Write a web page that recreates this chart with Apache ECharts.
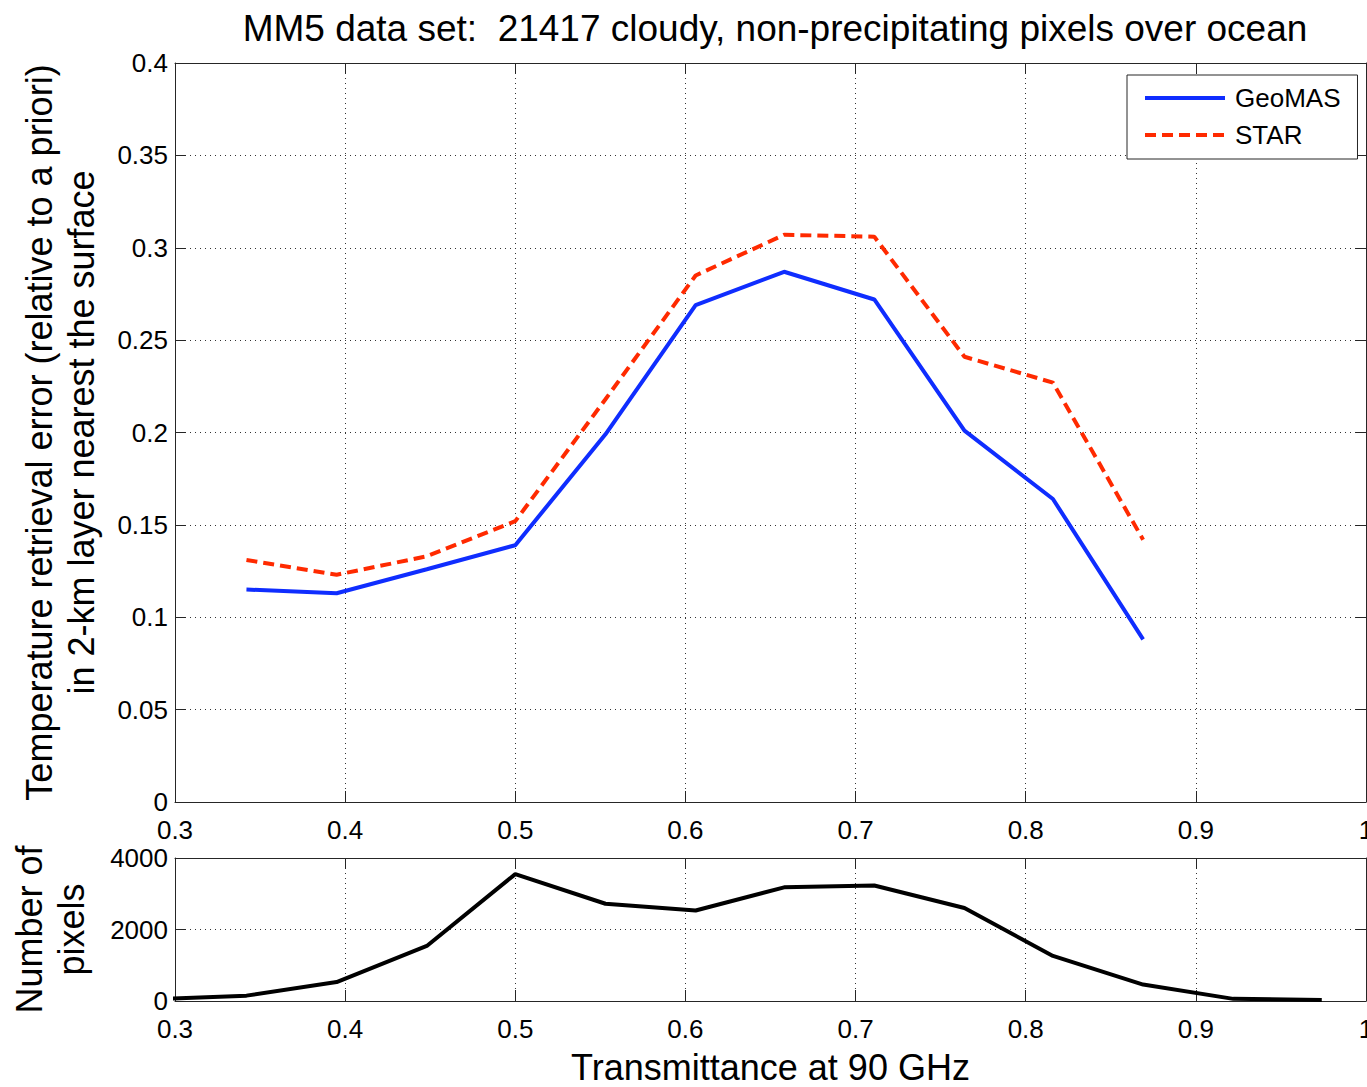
<!DOCTYPE html>
<html>
<head>
<meta charset="utf-8">
<script src="https://cdn.jsdelivr.net/npm/echarts@6/dist/echarts.min.js"></script>
<style>
html,body{margin:0;padding:0;background:#fff;}
#chart{width:1367px;height:1087px;}
</style>
</head>
<body>
<div id="chart"></div>
<script>
// ---- data ----
const transmittance = [0.342, 0.395, 0.448, 0.500, 0.553, 0.606, 0.658, 0.711, 0.764, 0.816, 0.869];
const geomasError  = [0.115, 0.113, 0.126, 0.139, 0.199, 0.269, 0.287, 0.272, 0.201, 0.164, 0.088];
const starError    = [0.131, 0.123, 0.133, 0.152, 0.218, 0.285, 0.307, 0.306, 0.241, 0.227, 0.142];

const countBins   = [0.290, 0.342, 0.395, 0.448, 0.500, 0.553, 0.606, 0.658, 0.711, 0.764, 0.816, 0.869, 0.922, 0.974];
const pixelCounts = [50, 150, 530, 1540, 3550, 2720, 2530, 3180, 3230, 2600, 1260, 460, 60, 30];

const xTicks = {min: 0.3, max: 1.0, interval: 0.1};
const errTicks = {min: 0, max: 0.4, interval: 0.05};
const cntTicks = {min: 0, max: 4000, interval: 2000};

const titleText = 'MM5 data set:  21417 cloudy, non-precipitating pixels over ocean';
const errName = 'Temperature retrieval error (relative to a priori)\nin 2-km layer nearest the surface';
const cntName = 'Number of\npixels';
const xName = 'Transmittance at 90 GHz';

// ---- styling ----
const FONT = 'Liberation Sans, Arial, Helvetica, sans-serif';
const AX = '#262626';
const gridDots = {color: '#333', width: 1, type: [1, 4]};

function pair(a, b) { return a.map((v, i) => [v, b[i]]); }

function xAxisMain(gridIndex, showName) {
  return Object.assign({
    type: 'value', gridIndex, position: 'bottom',
    axisLine: {show: true, onZero: false, lineStyle: {color: AX, width: 1}},
    axisTick: {show: true, inside: true, length: 11, lineStyle: {color: AX}},
    axisLabel: {show: true, color: '#000', fontSize: 26, lineHeight: 20, fontFamily: FONT, margin: 18, showMaxLabel: true, showMinLabel: true, hideOverlap: false},
    splitLine: {show: true, lineStyle: gridDots},
    name: showName ? xName : '', nameLocation: 'middle', nameGap: 48,
    nameTextStyle: {color: '#000', fontSize: 36, fontFamily: FONT, lineHeight: 36}
  }, xTicks);
}
function xAxisTop(gridIndex) {
  return Object.assign({
    type: 'value', gridIndex, position: 'top',
    axisLine: {show: true, onZero: false, lineStyle: {color: AX, width: 1}},
    axisTick: {show: true, inside: true, length: 11, lineStyle: {color: AX}},
    axisLabel: {show: false}, splitLine: {show: false}
  }, xTicks);
}
function yAxisMain(gridIndex, ticks, name, gap, fmt) {
  return Object.assign({
    type: 'value', gridIndex, position: 'left',
    axisLine: {show: true, onZero: false, lineStyle: {color: AX, width: 1}},
    axisTick: {show: true, inside: true, length: 11, lineStyle: {color: AX}},
    axisLabel: {show: true, color: '#000', fontSize: 26, lineHeight: 20, fontFamily: FONT, margin: 7, formatter: fmt},
    splitLine: {show: true, lineStyle: gridDots},
    name: name, nameLocation: 'middle', nameRotate: 90, nameGap: gap,
    nameTextStyle: {color: '#000', fontSize: 36, fontFamily: FONT, lineHeight: 42}
  }, ticks);
}
function yAxisRight(gridIndex, ticks) {
  return Object.assign({
    type: 'value', gridIndex, position: 'right',
    axisLine: {show: true, onZero: false, lineStyle: {color: AX, width: 1}},
    axisTick: {show: true, inside: true, length: 11, lineStyle: {color: AX}},
    axisLabel: {show: false}, splitLine: {show: false}
  }, ticks);
}

const chart = echarts.init(document.getElementById('chart'), null, {renderer: 'svg'});
chart.setOption({
  backgroundColor: '#fff',
  animation: false,
  title: {
    text: titleText, left: 770, top: 3, textAlign: 'center',
    textStyle: {color: '#000', fontSize: 37, fontWeight: 'normal', fontFamily: FONT, lineHeight: 40}
  },
  legend: {
    orient: 'vertical', left: 1127, top: 75,
    padding: [10, 17, 11, 16], itemGap: 11, itemWidth: 80, itemHeight: 14,
    backgroundColor: '#fff', borderColor: AX, borderWidth: 1, borderRadius: 0,
    itemStyle: {color: 'rgba(0,0,0,0)', borderColor: 'rgba(0,0,0,0)', borderWidth: 0, opacity: 0},
    lineStyle: {width: 4},
    textStyle: {color: '#000', fontSize: 26, fontFamily: FONT, lineHeight: 26, padding: [0, 0, 0, 5]},
    data: ['GeoMAS', 'STAR']
  },
  grid: [
    {left: 175, right: 1, top: 63, bottom: 285, outerBoundsMode: 'none', containLabel: false},
    {left: 175, right: 1, top: 858, bottom: 86, outerBoundsMode: 'none', containLabel: false}
  ],
  xAxis: [xAxisMain(0, false), xAxisMain(1, true), xAxisTop(0), xAxisTop(1)],
  yAxis: [
    yAxisMain(0, errTicks, errName, 73, null),
    yAxisMain(1, cntTicks, cntName, 83, v => String(v)),
    yAxisRight(0, errTicks),
    yAxisRight(1, cntTicks)
  ],
  series: [
    {
      name: 'GeoMAS', type: 'line', xAxisIndex: 0, yAxisIndex: 0,
      data: pair(transmittance, geomasError), symbol: 'none', showSymbol: false,
      lineStyle: {color: '#0f2dff', width: 4}, itemStyle: {color: '#0f2dff'}, z: 3
    },
    {
      name: 'STAR', type: 'line', xAxisIndex: 0, yAxisIndex: 0,
      data: pair(transmittance, starError), symbol: 'none', showSymbol: false,
      lineStyle: {color: '#ff2a00', width: 4, type: [11, 6]}, itemStyle: {color: '#ff2a00'}, z: 3
    },
    {
      name: 'Pixels', type: 'line', xAxisIndex: 1, yAxisIndex: 1,
      data: pair(countBins, pixelCounts), symbol: 'none', showSymbol: false, clip: true,
      lineStyle: {color: '#000', width: 4}, itemStyle: {color: '#000'}, z: 3
    }
  ]
});
</script>
</body>
</html>
